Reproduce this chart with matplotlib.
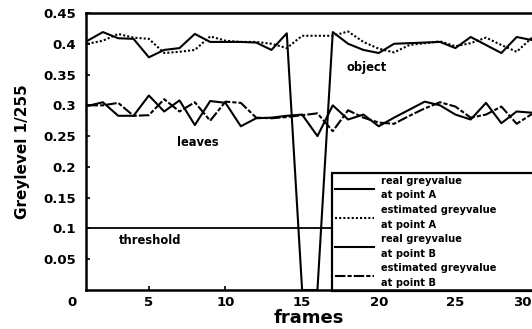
import matplotlib
matplotlib.use('Agg')
import matplotlib.pyplot as plt

# data
frames = list(range(1, 31))
a_real = [0.405, 0.419, 0.409, 0.408, 0.378, 0.390, 0.393, 0.416, 0.403, 0.403,
          0.403, 0.402, 0.390, 0.417, 0.0, 0.0, 0.419, 0.400, 0.390, 0.385,
          0.400, 0.401, 0.402, 0.403, 0.393, 0.411, 0.398, 0.385, 0.411, 0.406]
a_est = [0.400, 0.405, 0.416, 0.410, 0.408, 0.385, 0.387, 0.390, 0.412, 0.405,
         0.403, 0.403, 0.400, 0.393, 0.413, 0.413, 0.413, 0.420, 0.403, 0.392,
         0.386, 0.398, 0.401, 0.404, 0.396, 0.401, 0.410, 0.398, 0.387, 0.410]
b_real = [0.299, 0.305, 0.283, 0.283, 0.316, 0.290, 0.308, 0.268, 0.307, 0.304,
          0.266, 0.279, 0.280, 0.283, 0.285, 0.250, 0.300, 0.277, 0.285, 0.266,
          0.280, 0.293, 0.306, 0.300, 0.285, 0.277, 0.304, 0.271, 0.290, 0.288]
b_est = [0.300, 0.300, 0.304, 0.283, 0.284, 0.310, 0.290, 0.305, 0.275, 0.306,
         0.304, 0.280, 0.279, 0.281, 0.284, 0.287, 0.258, 0.292, 0.280, 0.272,
         0.270, 0.283, 0.295, 0.305, 0.298, 0.280, 0.285, 0.298, 0.270, 0.286]
threshold = [0.1] * 30

xticks = [5, 10, 15, 20, 25, 30]
yticks = [0.05, 0.1, 0.15, 0.2, 0.25, 0.3, 0.35, 0.4, 0.45]
ytick_labels = ['0.05', '0.1', '0.15', '0.2', '0.25', '0.3', '0.35', '0.4', '0.45']
labels = ['real greyvalue\nat point A', 'estimated greyvalue\nat point A',
          'real greyvalue\nat point B', 'estimated greyvalue\nat point B']

plt.rcParams['font.family'] = 'DejaVu Sans'
plt.rcParams['font.weight'] = 'bold'

fig = plt.figure(figsize=(5.32, 3.29), dpi=100)
ax = fig.add_axes([0.1617, 0.1185, 0.8383, 0.842])

l1, = ax.plot(frames, a_real, color='black', lw=1.5)
l2, = ax.plot(frames, a_est, color='black', lw=1.5, ls=(0, (1, 1)))
l3, = ax.plot(frames, b_real, color='black', lw=1.5)
l4, = ax.plot(frames, b_est, color='black', lw=1.5, ls=(0, (5, 1, 2, 1)))
ax.plot(frames, threshold, color='black', lw=1.3)

ax.text(8.2, 0.24, 'leaves', fontsize=8.3, fontweight='bold', ha='center', va='center')
ax.text(19.2, 0.362, 'object', fontsize=8.3, fontweight='bold', ha='center', va='center')
ax.text(5.1, 0.081, 'threshold', fontsize=8.3, fontweight='bold', ha='center', va='center')

ax.set_xlim(0.9, 30)
ax.set_ylim(0, 0.45)
ax.set_xticks(xticks)
ax.set_xticklabels([str(t) for t in xticks])
ax.set_yticks(yticks)
ax.set_yticklabels(ytick_labels)
ax.tick_params(direction='in', length=3, width=1.2, labelsize=9.5)
ax.tick_params(axis='y', pad=7)
ax.tick_params(axis='x', pad=4)
for lab in ax.get_xticklabels() + ax.get_yticklabels():
    lab.set_fontweight('bold')
ax.get_xticklabels()[-1].set_ha('right')
ax.annotate('0', xy=(0, 0), xycoords=('data', 'axes fraction'), xytext=(0, -4),
            textcoords='offset points', ha='center', va='top', fontsize=9.5,
            fontweight='bold', annotation_clip=False)

ax.spines['right'].set_visible(False)
for s in ['left', 'bottom', 'top']:
    ax.spines[s].set_linewidth(1.8)

ax.set_xlabel('frames', fontsize=13, fontweight='bold', labelpad=0)
ax.set_ylabel('Greylevel 1/255', fontsize=11, fontweight='bold', labelpad=10)

# legend box runs off the right edge like in the original
leg = ax.legend([l1, l2, l3, l4], labels, loc='upper left', mode='expand',
                bbox_to_anchor=(0.552, 0.0, 0.5, 0.422), borderaxespad=0, fontsize=7.1,
                frameon=True, fancybox=False, framealpha=1, edgecolor='black',
                handlelength=4.0, handletextpad=0.7, labelspacing=0.45,
                borderpad=0.25)
leg.get_frame().set_linewidth(1.6)
leg.set_zorder(2)
for t in leg.get_texts():
    t.set_linespacing(1.6)
    t.set_fontweight('bold')

fig.savefig('out.png', dpi=100)
